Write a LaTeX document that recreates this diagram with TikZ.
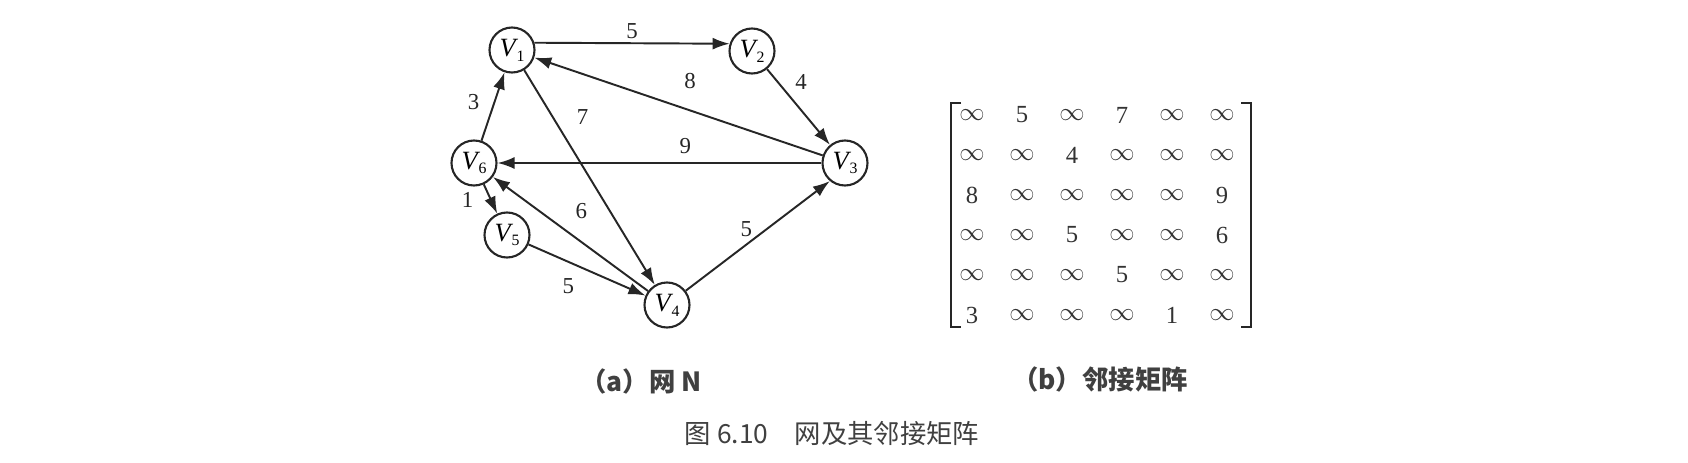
\documentclass[tikz,border=0pt]{standalone}
\usepackage{fontspec}
\setmainfont{Liberation Serif}
\newfontfamily\cjk{Noto Sans CJK SC}
\usepackage{tikz}
\usetikzlibrary{arrows.meta}
\newcommand\vname[1]{\textit{V}\kern-0.06em\raisebox{-0.4ex}{\fontsize{9}{9}\selectfont #1}}
\tikzset{
    vertex/.style={circle, draw=black!85, line width=1.2pt, minimum size=0.9cm, inner sep=0pt, font=\fontsize{15}{15}\selectfont},
    arc/.style={-{Latex[length=3.4mm,width=2.4mm]}, draw=black!85, line width=1.1pt},
    weight/.style={inner sep=1pt, text=black!85, font=\fontsize{13}{13}\selectfont},
    entry/.style={inner sep=0pt, text=black!80, font=\fontsize{14}{14}\selectfont},
    caption/.style={inner sep=0pt, text=black!75},
}

\begin{document}
\begin{tikzpicture}[x=0.02cm, y=-0.02cm]
\useasboundingbox (0,0) rectangle (1688,463);
\fill[white] (0,0) rectangle (1688,463);

\node[vertex] (v1) at (512,50) {\vname{1}};
\node[vertex] (v2) at (752,51) {\vname{2}};
\node[vertex] (v3) at (845,163) {\vname{3}};
\node[vertex] (v4) at (667,305) {\vname{4}};
\node[vertex] (v5) at (507,235) {\vname{5}};
\node[vertex] (v6) at (474,163) {\vname{6}};

\draw[arc] (v1.18) -- node[weight, above=1pt] {5} (v2.162);
\draw[arc] (v2) -- node[weight, pos=0.35, above right=2pt] {4} (v3);
\draw[arc] (v3) -- node[weight, pos=0.46, above=11pt] {8} (v1);
\draw[arc] (v1) -- node[weight, pos=0.22, right=12pt] {7} (v4);
\draw[arc] (v3) -- node[weight, pos=0.42, above=3.5pt] {9} (v6);
\draw[arc] (v6) -- node[weight, pos=0.56, left=7pt] {3} (v1);
\draw[arc] (v6) -- node[weight, pos=0.53, left=8.5pt] {1} (v5);
\draw[arc] (v4) -- node[weight, pos=0.43, above=11.5pt] {6} (v6);
\draw[arc] (v5) -- node[weight, pos=0.34, below=8pt] {5} (v4);
\draw[arc] (v4) -- node[weight, pos=0.42, above=3pt] {5} (v3.230);

\foreach \row [count=\i] in {
    {$\infty$,5,$\infty$,7,$\infty$,$\infty$},
    {$\infty$,$\infty$,4,$\infty$,$\infty$,$\infty$},
    {8,$\infty$,$\infty$,$\infty$,$\infty$,9},
    {$\infty$,$\infty$,5,$\infty$,$\infty$,6},
    {$\infty$,$\infty$,$\infty$,5,$\infty$,$\infty$},
    {3,$\infty$,$\infty$,$\infty$,1,$\infty$}}
    \foreach \e [count=\j] in \row
        \node[entry] (m\i\j) at ({922+50*\j},{75+40*\i}) {\e};
\draw[black!85, line width=1.2pt] (961,103) -- (951,103) -- (951,327) -- (961,327);
\draw[black!85, line width=1.2pt] (1241,103) -- (1251,103) -- (1251,327) -- (1241,327);

\node[caption, font=\cjk\bfseries\fontsize{15}{15}\selectfont] (capa) at (641,381) {（\textbf{a}）网 \textbf{N}};
\node[caption, font=\cjk\bfseries\fontsize{15}{15}\selectfont] (capb) at (1100,379) {（\textbf{b}）邻接矩阵};
\node[caption, font=\cjk\fontsize{15}{15}\selectfont] (fig) at (832,433) {图 6.10\quad 网及其邻接矩阵};
\end{tikzpicture}
\end{document}
